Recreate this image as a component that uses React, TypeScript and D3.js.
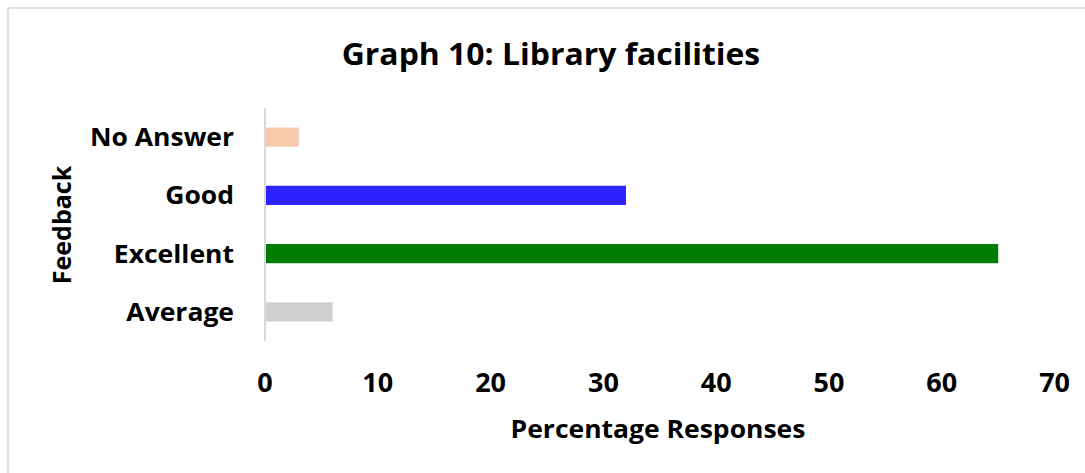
import React from "react";
import * as d3 from "d3";

const categories = ["No Answer", "Good", "Excellent", "Average"];
const values = [3, 32, 65, 6];
const colors = ["#f8cbad", "#2b22ff", "#007c00", "#d0cece"];
const xTicks = [0, 10, 20, 30, 40, 50, 60, 70];
const title = "Graph 10: Library facilities";
const xTitle = "Percentage Responses";
const yTitle = "Feedback";

const W = 1085;
const H = 473;
const FONT = "'Open Sans', Lato, sans-serif";

export default function App() {
  const x = d3.scaleLinear().domain([0, 70]).range([265, 1054.6]);
  const y = d3
    .scaleBand<string>()
    .domain(categories)
    .range([108, 341])
    .paddingInner(0.67)
    .paddingOuter(0.335);
  const [y0, y1] = y.range();

  const T = (props: { x: number; y: number; anchor: string; size: number; sx?: number; children: React.ReactNode; dy?: string }) => (
    <text
      transform={`translate(${props.x},${props.y}) scale(${props.sx ?? 1},1)`}
      dy={props.dy}
      textAnchor={props.anchor}
      fontSize={props.size}
      fontWeight={700}
      fill="#000"
    >
      {props.children}
    </text>
  );

  return (
    <svg
      width={W}
      height={H}
      style={{ position: "absolute", left: 0, top: 0, background: "#fff" }}
      fontFamily={FONT}
    >
      <rect x={0} y={0} width={W} height={H} fill="#fff" />
      <rect x={8} y={8} width={W + 20} height={H + 20} fill="none" stroke="#d9d9d9" strokeWidth={1.5} />
      <T x={551} y={65} anchor="middle" size={31} sx={1.03}>{title}</T>
      {categories.map((c, i) => (
        <rect
          key={c}
          x={x(0)}
          y={y(c)}
          width={x(values[i]) - x(0)}
          height={y.bandwidth()}
          fill={colors[i]}
        />
      ))}
      <line x1={x(0)} x2={x(0)} y1={y0} y2={y1} stroke="#d9d9d9" strokeWidth={2} />
      {categories.map((c) => (
        <T key={c} x={234} y={(y(c) as number) + y.bandwidth() / 2} dy="0.36em" anchor="end" size={25} sx={1.06}>
          {c}
        </T>
      ))}
      {xTicks.map((t) => (
        <T key={t} x={x(t)} y={392} anchor="middle" size={27}>
          {t}
        </T>
      ))}
      <T x={658} y={438} anchor="middle" size={25} sx={1.06}>{xTitle}</T>
      <text
        transform={`translate(71,225) rotate(-90)`}
        textAnchor="middle"
        fontSize={25}
        fontWeight={700}
        fill="#000"
      >
        {yTitle}
      </text>
    </svg>
  );
}
